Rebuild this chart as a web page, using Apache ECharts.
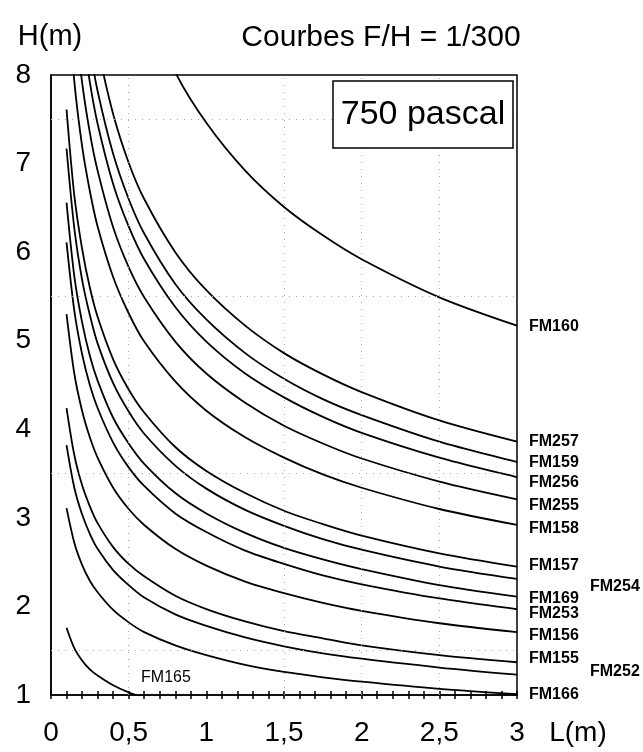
<!DOCTYPE html>
<html><head><meta charset="utf-8">
<script src="https://cdn.jsdelivr.net/npm/echarts@6/dist/echarts.min.js"></script>
<style>html,body{margin:0;padding:0;background:#fff}#c{width:643px;height:752px}</style>
</head><body><div id="c"></div>
<script>
// ---- data ----
const L = [0.1, 0.15, 0.2, 0.25, 0.3, 0.4, 0.5, 0.6, 0.8, 1, 1.25, 1.5, 1.75, 2, 2.5, 3];
const FM160 = [16.06, 14.03, 12.75, 11.84, 11.14, 10.12, 9.39, 8.84, 8.03, 7.46, 6.92, 6.51, 6.19, 5.92, 5.49, 5.17];
const FM257 = [11.99, 10.48, 9.52, 8.84, 8.32, 7.56, 7.01, 6.60, 6.00, 5.57, 5.17, 4.86, 4.62, 4.42, 4.10, 3.86];
const FM159 = [11.28, 9.85, 8.95, 8.31, 7.82, 7.11, 6.60, 6.21, 5.64, 5.24, 4.86, 4.57, 4.34, 4.16, 3.86, 3.63];
const FM256 = [10.75, 9.39, 8.53, 7.92, 7.45, 6.77, 6.29, 5.92, 5.38, 4.99, 4.63, 4.36, 4.14, 3.96, 3.68, 3.46];
const FM255 = [9.97, 8.71, 7.92, 7.35, 6.92, 6.28, 5.83, 5.49, 4.99, 4.63, 4.30, 4.04, 3.84, 3.67, 3.41, 3.21];
const FM158 = [9.07, 7.93, 7.20, 6.69, 6.29, 5.72, 5.31, 4.99, 4.54, 4.21, 3.91, 3.68, 3.49, 3.34, 3.10, 2.92];
const FM157 = [7.61, 6.64, 6.04, 5.60, 5.27, 4.79, 4.45, 4.19, 3.80, 3.53, 3.28, 3.08, 2.93, 2.80, 2.60, 2.45];
const FM254 = [7.17, 6.27, 5.69, 5.29, 4.97, 4.52, 4.20, 3.95, 3.59, 3.33, 3.09, 2.91, 2.76, 2.64, 2.45, 2.31];
const FM169 = [6.56, 5.73, 5.21, 4.83, 4.55, 4.13, 3.84, 3.61, 3.28, 3.05, 2.83, 2.66, 2.53, 2.42, 2.24, 2.11];
const FM253 = [6.11, 5.34, 4.85, 4.50, 4.24, 3.85, 3.57, 3.36, 3.05, 2.84, 2.63, 2.48, 2.35, 2.25, 2.09, 1.97];
const FM156 = [5.30, 4.63, 4.21, 3.91, 3.68, 3.34, 3.10, 2.92, 2.65, 2.46, 2.28, 2.15, 2.04, 1.95, 1.81, 1.71];
const FM155 = [4.24, 3.71, 3.37, 3.13, 2.94, 2.67, 2.48, 2.34, 2.12, 1.97, 1.83, 1.72, 1.64, 1.56, 1.45, 1.37];
const FM252 = [3.82, 3.34, 3.04, 2.82, 2.65, 2.41, 2.24, 2.10, 1.91, 1.78, 1.65, 1.55, 1.47, 1.41, 1.31, 1.23];
const FM166 = [3.11, 2.72, 2.47, 2.29, 2.16, 1.96, 1.82, 1.71, 1.56, 1.45, 1.34, 1.26, 1.20, 1.15, 1.07, 1.01];
const FM165 = [1.76, 1.53, 1.39, 1.29, 1.22, 1.11, 1.03, 0.97, null, null, null, null, null, null, null, null];
const FM165_LABEL_AT = [0.74, 1.2];
const curves = [
  ['FM160', FM160], ['FM257', FM257], ['FM159', FM159], ['FM256', FM256], ['FM255', FM255],
  ['FM158', FM158], ['FM157', FM157], ['FM254', FM254], ['FM169', FM169], ['FM253', FM253],
  ['FM156', FM156], ['FM155', FM155], ['FM252', FM252], ['FM166', FM166], ['FM165', FM165]
];
const xTickLabels = ['0', '0,5', '1', '1,5', '2', '2,5', '3'];
const yTickLabels = ['1', '2', '3', '4', '5', '6', '7', '8'];
const gridX = [0.5, 1.5, 2, 2.5];
const gridY = [1.5, 3.5, 5.5, 7.5];

// ---- layout / style ----
const FONT = "'Liberation Sans', Arial, sans-serif";
const endLabelOffset = {
  FM160: [0, 1], FM257: [0, 0], FM159: [0, 1], FM256: [0, 5], FM255: [0, 6], FM158: [0, 4],
  FM157: [0, -1], FM254: [61, 8], FM169: [0, 2], FM253: [0, 5], FM156: [0, 3], FM155: [0, -4],
  FM252: [61, -3], FM166: [0, 0]
};

const chart = echarts.init(document.getElementById('c'), null, {renderer: 'canvas'});

const series = curves.map(([name, vals], idx) => {
  const s = {
    name, type: 'line', xAxisIndex: 0, yAxisIndex: 0,
    data: L.map((l, i) => [l, vals[i]]).filter(p => p[1] !== null),
    showSymbol: false, symbol: 'none', clip: true, animation: false,
    smooth: 0.3,
    lineStyle: {color: '#000', width: 1.8},
    z: 3
  };
  if (endLabelOffset[name]) {
    s.endLabel = {
      show: true, formatter: name, distance: 12, offset: endLabelOffset[name],
      color: '#000', fontFamily: FONT, fontSize: 16, fontWeight: 'bold'
    };
  }
  if (name === 'FM165') {
    s.markPoint = {
      symbol: 'circle', symbolSize: 0, silent: true, animation: false,
      data: [{coord: FM165_LABEL_AT}],
      label: {show: true, position: 'inside', formatter: name, color: '#000',
              fontFamily: FONT, fontSize: 16}
    };
  }
  if (idx === 0) {
    s.markLine = {
      silent: true, symbol: 'none', animation: false,
      label: {show: false},
      lineStyle: {color: '#a8a8a8', type: [1, 6], width: 1},
      data: gridX.map(v => ({xAxis: v})).concat(gridY.map(v => ({yAxis: v})))
    };
  }
  return s;
});

const option = {
  backgroundColor: '#fff',
  animation: false,
  grid: {left: 51, right: 126, top: 75, bottom: 57, show: true, borderColor: '#000', borderWidth: 1.5, backgroundColor: 'transparent'},
  xAxis: [
    {type: 'value', min: 0, max: 3, interval: 0.5, position: 'bottom',
     axisLine: {show: true, onZero: false, lineStyle: {color: '#000', width: 1.5}},
     axisTick: {show: false}, splitLine: {show: false},
     axisLabel: {margin: 24, color: '#000', fontSize: 28, fontFamily: FONT,
       formatter: (v) => xTickLabels[Math.round(v / 0.5)] }},
    {type: 'value', min: 0, max: 3, interval: 0.1, position: 'bottom',
     axisLine: {show: false, onZero: false}, axisLabel: {show: false}, splitLine: {show: false},
     axisTick: {show: true, inside: true, length: 4, lineStyle: {color: '#000', width: 1.5}}},
    {type: 'value', min: 0, max: 3, interval: 0.1, position: 'bottom',
     axisLine: {show: false, onZero: false}, axisLabel: {show: false}, splitLine: {show: false},
     axisTick: {show: true, inside: false, length: 4, lineStyle: {color: '#000', width: 1.5}}}
  ],
  yAxis: {type: 'value', min: 1, max: 8, interval: 1,
    axisLine: {show: true, lineStyle: {color: '#000', width: 1.5}},
    axisTick: {show: false}, splitLine: {show: false},
    axisLabel: {margin: 20, color: '#000', fontSize: 28, fontFamily: FONT,
      formatter: (v) => yTickLabels[Math.round(v) - 1]}},
  series,
  graphic: [
    {type: 'text', x: 381, y: 38, style: {text: 'Courbes F/H = 1/300', font: "30px 'Liberation Sans'", fill: '#000', align: 'center', verticalAlign: 'middle'}},
    {type: 'text', x: 50, y: 37, style: {text: 'H(m)', font: "29px 'Liberation Sans'", fill: '#000', align: 'center', verticalAlign: 'middle'}},
    {type: 'text', x: 578, y: 733, style: {text: 'L(m)', font: "28px 'Liberation Sans'", fill: '#000', align: 'center', verticalAlign: 'middle'}},
    {type: 'rect', x: 333, y: 81, shape: {width: 180, height: 67}, style: {fill: '#fff', stroke: '#000', lineWidth: 1.5}, z: 100},
    {type: 'text', x: 423, y: 115, z: 101, style: {text: '750 pascal', font: "34px 'Liberation Sans'", fill: '#000', align: 'center', verticalAlign: 'middle'}}
  ]
};
chart.setOption(option);
</script></body></html>
